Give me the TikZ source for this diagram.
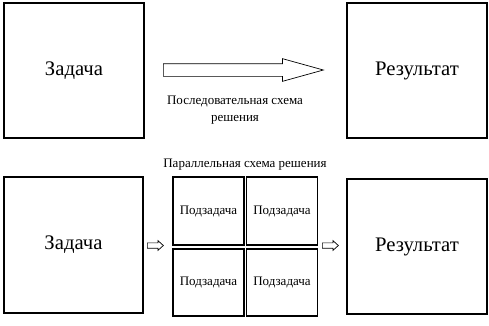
\documentclass[tikz,border=0pt]{standalone}
\usepackage{fontspec}
\setmainfont{Liberation Serif}
\usetikzlibrary{shapes.arrows}

\begin{document}
\begin{tikzpicture}[
    x=1pt, y=-1pt,
    box/.style={draw, line width=1.4pt, minimum width=140pt, minimum height=135pt, font=\fontsize{20.7}{24}\selectfont},
    subbox/.style={draw, line width=1.4pt, minimum width=71pt, minimum height=67pt, font=\fontsize{13}{15}\selectfont},
    note/.style={font=\fontsize{13}{16.5}\selectfont, align=center},
    blockarrow/.style={single arrow, draw, line width=0.7pt, inner xsep=0pt, single arrow head indent=0pt, anchor=tail}
]
    \useasboundingbox (0,0) rectangle (489,325);

    % sequential scheme
    \node[box] (task) at (74,70.5) {Задача};
    \node[box] (result) at (417,70.5) {Результат};
    \node[blockarrow, inner ysep=6pt, minimum height=160pt, single arrow head extend=5pt, single arrow tip angle=31] (seq) at (163,70) {};
    \node[note] (seqlabel) at (235,110) {Последовательная схема\\решения};

    % parallel scheme
    \node[note] (parlabel) at (245,165) {Параллельная схема решения};
    \node[box, minimum width=139pt, minimum height=136pt] (ptask) at (73.5,245) {Задача};
    \node[subbox, minimum height=68pt] (sub1) at (208.5,211) {Подзадача};
    \node[subbox, minimum height=68pt] (sub2) at (282,211) {Подзадача};
    \node[subbox] (sub3) at (208.5,282.5) {Подзадача};
    \node[subbox] (sub4) at (282,282.5) {Подзадача};
    \node[box] (presult) at (417,246.5) {Результат};
    \node[blockarrow, inner ysep=2.3pt, minimum height=16pt, single arrow head extend=2.2pt, single arrow tip angle=84] (fork) at (147,245.5) {};
    \node[blockarrow, inner ysep=2.3pt, minimum height=16pt, single arrow head extend=2.2pt, single arrow tip angle=84] (join) at (322,245.5) {};
\end{tikzpicture}
\end{document}
